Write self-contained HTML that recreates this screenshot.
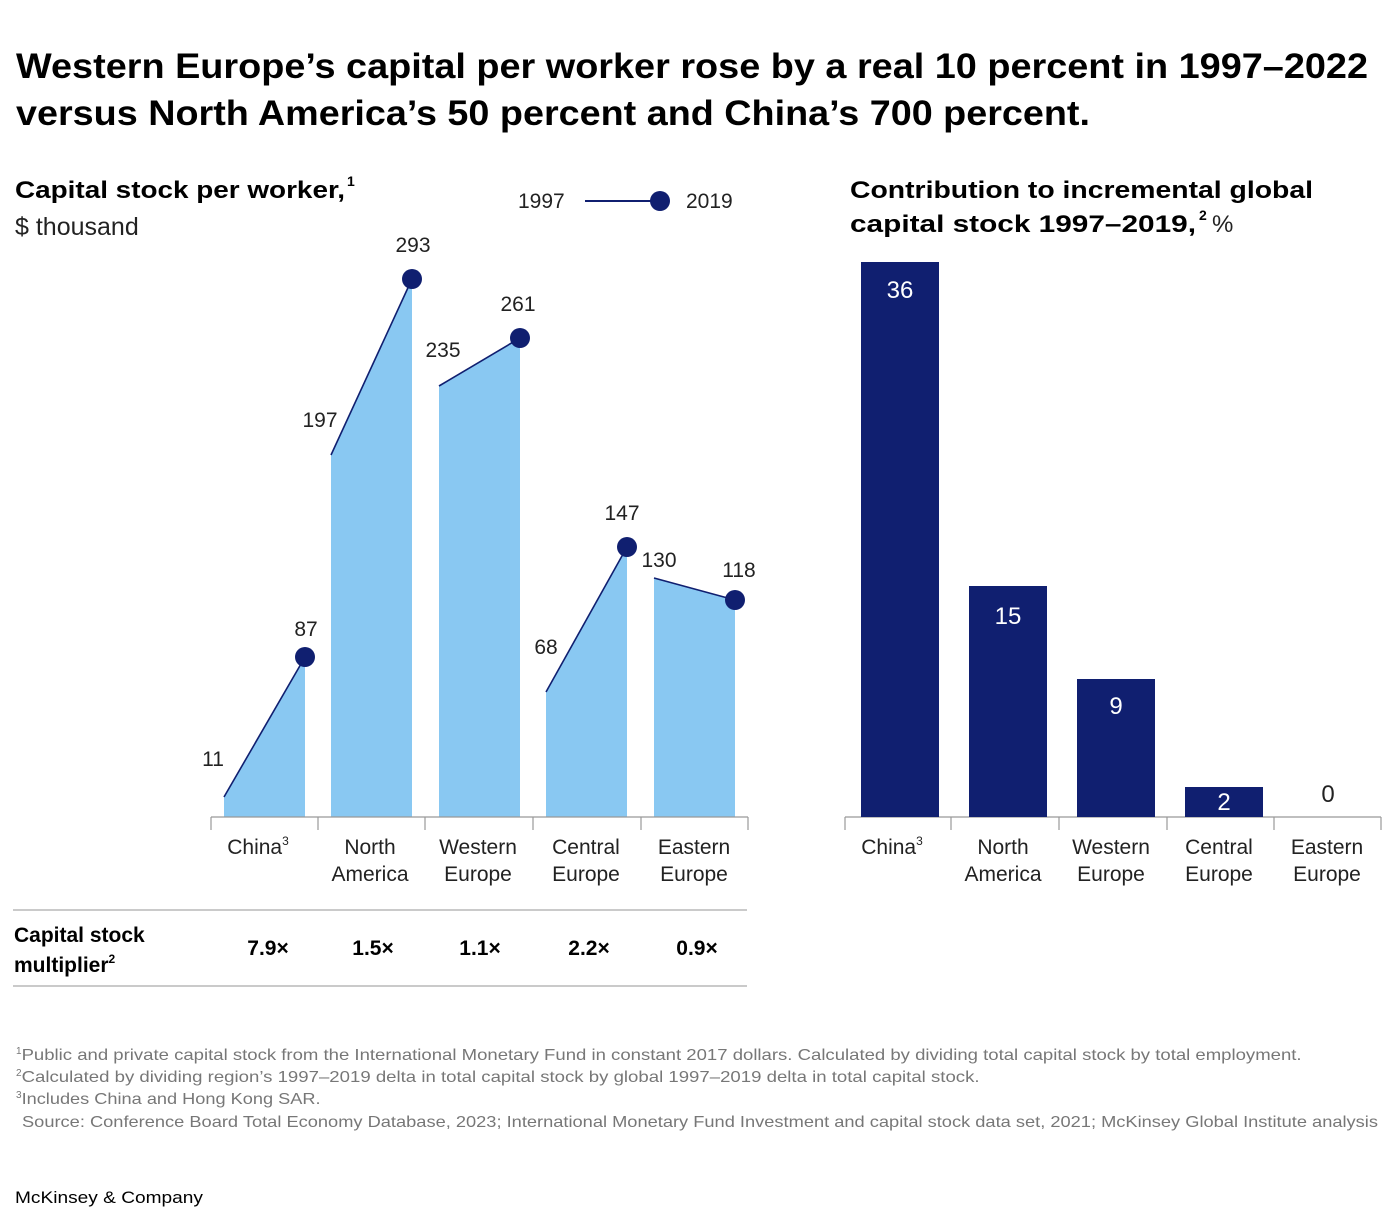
<!DOCTYPE html>
<html><head><meta charset="utf-8"><style>html,body{margin:0;padding:0;background:#fff}svg{display:block}</style></head>
<body>
<svg width="1396" height="1230" viewBox="0 0 1396 1230" xmlns="http://www.w3.org/2000/svg" font-family="Liberation Sans, Arial, sans-serif">
<g font-weight="bold" font-size="35" fill="#000">
<text x="16" y="78" textLength="1352" lengthAdjust="spacingAndGlyphs">Western Europe’s capital per worker rose by a real 10 percent in 1997–2022</text>
<text x="16" y="125" textLength="1074" lengthAdjust="spacingAndGlyphs">versus North America’s 50 percent and China’s 700 percent.</text>
</g>
<text x="15" y="198" font-size="24" font-weight="bold" textLength="330" lengthAdjust="spacingAndGlyphs">Capital stock per worker,</text>
<text x="347" y="186" font-size="14" font-weight="bold">1</text>
<text x="15" y="235" font-size="25" fill="#222">$ thousand</text>
<text x="518" y="208" font-size="21" fill="#222">1997</text>
<line x1="585" y1="201" x2="655" y2="201" stroke="#101f70" stroke-width="2"/>
<circle cx="660" cy="201" r="10" fill="#101f70"/>
<text x="686" y="208" font-size="21" fill="#222">2019</text>

<g fill="#89c8f2">
<polygon points="224,817 224,797 305,657 305,817"/>
<polygon points="331,817 331,455 412,279 412,817"/>
<polygon points="439,817 439,386 520,338 520,817"/>
<polygon points="546,817 546,692 627,547 627,817"/>
<polygon points="654,817 654,578 735,600 735,817"/>
</g>
<g stroke="#101f70" stroke-width="1.6">
<line x1="224" y1="797" x2="305" y2="657"/>
<line x1="331" y1="455" x2="412" y2="279"/>
<line x1="439" y1="386" x2="520" y2="338"/>
<line x1="546" y1="692" x2="627" y2="547"/>
<line x1="654" y1="578" x2="735" y2="600"/>
</g>
<g fill="#101f70">
<circle cx="305" cy="657" r="10"/><circle cx="412" cy="279" r="10"/><circle cx="520" cy="338" r="10"/><circle cx="627" cy="547" r="10"/><circle cx="735" cy="600" r="10"/>
</g>
<g font-size="21" fill="#222" text-anchor="middle">
<text x="213" y="766">11</text><text x="306" y="636">87</text>
<text x="320" y="427">197</text><text x="413" y="252">293</text>
<text x="443" y="357">235</text><text x="518" y="311">261</text>
<text x="546" y="654">68</text><text x="622" y="520">147</text>
<text x="659" y="567">130</text><text x="739" y="577">118</text>
</g>
<g stroke="#999" stroke-width="1.2">
<line x1="211" y1="817" x2="748" y2="817"/>
<line x1="211" y1="817" x2="211" y2="830"/><line x1="318" y1="817" x2="318" y2="830"/><line x1="425" y1="817" x2="425" y2="830"/><line x1="533" y1="817" x2="533" y2="830"/><line x1="641" y1="817" x2="641" y2="830"/><line x1="748" y1="817" x2="748" y2="830"/>
<line x1="845" y1="817" x2="1381" y2="817"/>
<line x1="845" y1="817" x2="845" y2="830"/><line x1="951" y1="817" x2="951" y2="830"/><line x1="1059" y1="817" x2="1059" y2="830"/><line x1="1167" y1="817" x2="1167" y2="830"/><line x1="1274" y1="817" x2="1274" y2="830"/><line x1="1381" y1="817" x2="1381" y2="830"/>
</g>
<g font-size="21" fill="#222" text-anchor="middle">
<text x="258" y="854">China<tspan font-size="12" dy="-9">3</tspan></text>
<text x="370" y="854">North</text><text x="370" y="881">America</text>
<text x="478" y="854">Western</text><text x="478" y="881">Europe</text>
<text x="586" y="854">Central</text><text x="586" y="881">Europe</text>
<text x="694" y="854">Eastern</text><text x="694" y="881">Europe</text>
<text x="892" y="854">China<tspan font-size="12" dy="-9">3</tspan></text>
<text x="1003" y="854">North</text><text x="1003" y="881">America</text>
<text x="1111" y="854">Western</text><text x="1111" y="881">Europe</text>
<text x="1219" y="854">Central</text><text x="1219" y="881">Europe</text>
<text x="1327" y="854">Eastern</text><text x="1327" y="881">Europe</text>
</g>
<line x1="13" y1="910" x2="747" y2="910" stroke="#aaa" stroke-width="1.2"/>
<line x1="13" y1="986" x2="747" y2="986" stroke="#aaa" stroke-width="1.2"/>
<text x="14" y="942" font-size="21" font-weight="bold">Capital stock</text>
<text x="14" y="972" font-size="21" font-weight="bold">multiplier<tspan font-size="12" dy="-9">2</tspan></text>
<g font-size="21" font-weight="bold" text-anchor="middle">
<text x="268" y="955">7.9×</text><text x="373" y="955">1.5×</text><text x="480" y="955">1.1×</text><text x="589" y="955">2.2×</text><text x="697" y="955">0.9×</text>
</g>

<text x="850" y="198" font-size="24" font-weight="bold" textLength="463" lengthAdjust="spacingAndGlyphs">Contribution to incremental global</text>
<text x="850" y="232" font-size="24" font-weight="bold" textLength="346" lengthAdjust="spacingAndGlyphs">capital stock 1997–2019,</text>
<text x="1199" y="220" font-size="14" font-weight="bold">2</text>
<text x="1212" y="232" font-size="24" fill="#222">%</text>
<g fill="#101f70">
<rect x="861" y="262" width="78" height="555"/>
<rect x="969" y="586" width="78" height="231"/>
<rect x="1077" y="679" width="78" height="138"/>
<rect x="1185" y="787" width="78" height="30"/>
</g>
<g font-size="24" text-anchor="middle" fill="#fff">
<text x="900" y="298">36</text><text x="1008" y="624">15</text><text x="1116" y="714">9</text><text x="1224" y="810">2</text>
</g>
<text x="1328" y="802" font-size="24" text-anchor="middle" fill="#222">0</text>

<g font-size="16" fill="#777">
<text x="16" y="1060"><tspan font-size="10" dy="-6">1</tspan><tspan dy="6" textLength="1280" lengthAdjust="spacingAndGlyphs">Public and private capital stock from the International Monetary Fund in constant 2017 dollars. Calculated by dividing total capital stock by total employment.</tspan></text>
<text x="16" y="1082"><tspan font-size="10" dy="-6">2</tspan><tspan dy="6" textLength="958" lengthAdjust="spacingAndGlyphs">Calculated by dividing region’s 1997–2019 delta in total capital stock by global 1997–2019 delta in total capital stock.</tspan></text>
<text x="16" y="1104"><tspan font-size="10" dy="-6">3</tspan><tspan dy="6" textLength="299" lengthAdjust="spacingAndGlyphs">Includes China and Hong Kong SAR.</tspan></text>
<text x="22" y="1127" textLength="1356" lengthAdjust="spacingAndGlyphs">Source: Conference Board Total Economy Database, 2023; International Monetary Fund Investment and capital stock data set, 2021; McKinsey Global Institute analysis</text>
</g>
<text x="15" y="1203" font-size="17" fill="#000" textLength="188" lengthAdjust="spacingAndGlyphs">McKinsey &amp; Company</text>
</svg>
</body></html>
